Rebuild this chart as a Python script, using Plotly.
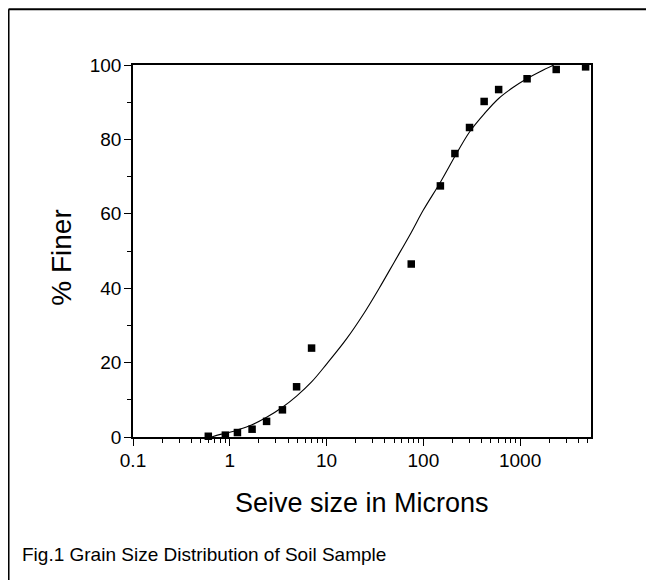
import math
import plotly.graph_objects as go

# Measured data (sieve size in microns, % finer)
sieve_size = [0.6, 0.9, 1.2, 1.7, 2.4, 3.5, 4.9, 7.0, 75, 150, 212, 300, 425, 600, 1180, 2360, 4750]
pct_finer = [0.2, 0.5, 1.2, 2.1, 4.2, 7.3, 13.5, 23.9, 46.5, 67.5, 76.2, 83.2, 90.2, 93.4, 96.3, 98.8, 99.5]

# Fitted curve
curve_x = [0.65, 0.8, 1.0, 1.2, 1.7, 2.4, 3.5, 4.9, 7, 10, 16, 24, 35, 50, 75, 100, 150, 218, 300, 430, 600, 850, 1170, 1600, 2230]
curve_y = [0.0, 0.7, 1.3, 1.9, 3.3, 5.3, 8.0, 11.0, 14.8, 19.6, 26.3, 33.0, 40.0, 47.0, 55.0, 61.0, 68.5, 76.0, 82.0, 87.0, 91.0, 94.0, 96.3, 98.2, 100.0]

x_tickvals = [0.1, 1, 10, 100, 1000]
x_ticktext = ["0.1", "1", "10", "100", "1000"]
y_tickvals = [0, 20, 40, 60, 80, 100]

# page is offset by the 8px body margin of the html page
OFF = 8
PAGE_W, PAGE_H = 654, 580
W, H = PAGE_W - OFF, PAGE_H - OFF
L, R, T, B = 133.3, 590.7, 64.7, 437.0   # plot area in page pixels

def px(X):
    return (X - L) / (R - L)

def py(Y):
    return (B - Y) / (B - T)

FONT = "Liberation Sans, Arial, sans-serif"

fig = go.Figure()
fig.add_trace(go.Scatter(x=curve_x, y=curve_y, mode="lines",
                         line=dict(color="black", width=1.1, shape="spline"),
                         hoverinfo="skip", showlegend=False))
fig.add_trace(go.Scatter(x=sieve_size, y=pct_finer, mode="markers",
                         marker=dict(symbol="square", size=7.5, color="black"),
                         cliponaxis=False, showlegend=False))

fig.update_xaxes(type="log", range=[math.log10(0.1), math.log10(5400)],
                 tickvals=x_tickvals, ticktext=x_ticktext,
                 ticks="outside", ticklen=7, tickwidth=1.2, tickcolor="black",
                 minor=dict(ticks="outside", ticklen=4, tickwidth=1.2, tickcolor="black",
                            dtick="D1", showgrid=False),
                 showline=True, linecolor="black", linewidth=1.5, mirror=True,
                 showgrid=False, zeroline=False, ticklabelstandoff=-2,
                 tickfont=dict(family=FONT, size=19, color="black"))
fig.update_yaxes(range=[0, 100], tickvals=y_tickvals,
                 ticks="outside", ticklen=7, tickwidth=1.2, tickcolor="black",
                 minor=dict(ticks="outside", ticklen=4, tickwidth=1.2, tickcolor="black",
                            dtick=10, showgrid=False),
                 showline=True, linecolor="black", linewidth=1.5, mirror=True,
                 showgrid=False, zeroline=False, ticklabelstandoff=-1,
                 tickfont=dict(family=FONT, size=19, color="black"))

fig.update_layout(
    width=W, height=H, autosize=False,
    margin=dict(l=L - OFF, r=PAGE_W - R, t=T - OFF, b=PAGE_H - B, pad=0),
    paper_bgcolor="white", plot_bgcolor="white",
    font=dict(family=FONT, color="black"),
    annotations=[
        dict(text="Seive size in Microns", x=0.5, y=py(503), xref="paper", yref="paper",
             xanchor="center", yanchor="middle", showarrow=False,
             font=dict(family=FONT, size=27, color="black")),
        dict(text="% Finer", x=px(62), y=py(258), xref="paper", yref="paper",
             xanchor="center", yanchor="middle", showarrow=False, textangle=-90,
             font=dict(family=FONT, size=28, color="black")),
        dict(text="Fig.1 Grain Size Distribution of Soil Sample", x=px(20.5), y=py(555),
             xref="paper", yref="paper", xanchor="left", yanchor="middle", showarrow=False,
             font=dict(family=FONT, size=19, color="black")),
    ],
    shapes=[
        dict(type="line", xref="paper", yref="paper", x0=px(OFF + 1), x1=px(OFF + 1),
             y0=py(700), y1=py(OFF + 1), line=dict(color="black", width=2)),
        dict(type="line", xref="paper", yref="paper", x0=px(OFF + 1), x1=px(800),
             y0=py(OFF + 1), y1=py(OFF + 1), line=dict(color="black", width=2)),
    ],
)

fig.write_html("out.html")
